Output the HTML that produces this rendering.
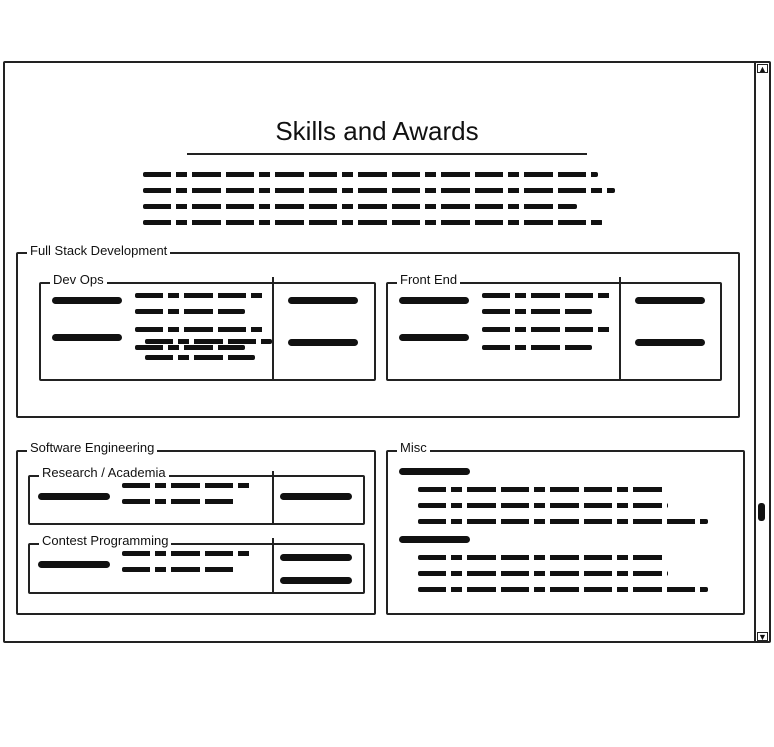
<!DOCTYPE html>
<html><head><meta charset="utf-8"><style>
body{margin:0;width:774px;height:747px;background:#fff;position:relative;overflow:hidden;font-family:"Liberation Sans",sans-serif;color:#111}
div{position:absolute;box-sizing:border-box}
.box{border:2px solid #222;border-radius:2px}
.lbl{font-size:13px;background:#fff;padding:0 3px;line-height:14px}
.s{height:5px;border-radius:2px;background:repeating-linear-gradient(90deg,#111 0 28px,transparent 28px 33px,#111 33px 44px,transparent 44px 49px,#111 49px 78px,transparent 78px 83px)}
.b{height:7px;border-radius:4px;background:#111}
.v{width:2px;background:#222}
</style></head><body>
<div class="box" style="left:3px;top:61px;width:768px;height:582px"></div>
<div class="v" style="left:754px;top:62px;height:580px"></div>
<div style="left:757px;top:64px;width:11px;height:9px;font-size:9px;line-height:9px;text-align:center;border:1px solid #222">▲</div>
<div style="left:757px;top:632px;width:11px;height:9px;font-size:9px;line-height:9px;text-align:center;border:1px solid #222">▼</div>
<div style="left:758px;top:503px;width:7px;height:18px;background:#111;border-radius:3px"></div>

<div style="left:170px;top:115px;width:414px;text-align:center;font-size:26px;line-height:32px">Skills and Awards</div>
<div style="left:187px;top:153px;width:400px;height:2px;background:#222"></div>
<div class="s" style="left:143px;top:172px;width:455px"></div>
<div class="s" style="left:143px;top:188px;width:472px"></div>
<div class="s" style="left:143px;top:204px;width:434px"></div>
<div class="s" style="left:143px;top:220px;width:460px"></div>

<div class="box" style="left:16px;top:252px;width:724px;height:166px"></div>
<div class="lbl" style="left:27px;top:244px">Full Stack Development</div>

<div class="box" style="left:39px;top:282px;width:337px;height:99px"></div>
<div class="v" style="left:272px;top:277px;height:104px"></div>
<div class="lbl" style="left:50px;top:273px">Dev Ops</div>
<div class="b" style="left:52px;top:297px;width:70px"></div>
<div class="b" style="left:52px;top:334px;width:70px"></div>
<div class="s" style="left:135px;top:293px;width:130px"></div>
<div class="s" style="left:135px;top:309px;width:110px"></div>
<div class="s" style="left:135px;top:327px;width:130px"></div>
<div class="s" style="left:145px;top:339px;width:127px"></div>
<div class="s" style="left:135px;top:345px;width:110px"></div>
<div class="s" style="left:145px;top:355px;width:110px"></div>
<div class="b" style="left:288px;top:297px;width:70px"></div>
<div class="b" style="left:288px;top:339px;width:70px"></div>

<div class="box" style="left:386px;top:282px;width:336px;height:99px"></div>
<div class="v" style="left:619px;top:277px;height:104px"></div>
<div class="lbl" style="left:397px;top:273px">Front End</div>
<div class="b" style="left:399px;top:297px;width:70px"></div>
<div class="b" style="left:399px;top:334px;width:70px"></div>
<div class="s" style="left:482px;top:293px;width:130px"></div>
<div class="s" style="left:482px;top:309px;width:110px"></div>
<div class="s" style="left:482px;top:327px;width:130px"></div>
<div class="s" style="left:482px;top:345px;width:110px"></div>
<div class="b" style="left:635px;top:297px;width:70px"></div>
<div class="b" style="left:635px;top:339px;width:70px"></div>

<div class="box" style="left:16px;top:450px;width:360px;height:165px"></div>
<div class="lbl" style="left:27px;top:441px">Software Engineering</div>
<div class="box" style="left:28px;top:475px;width:337px;height:50px"></div>
<div class="v" style="left:272px;top:471px;height:54px"></div>
<div class="lbl" style="left:39px;top:466px">Research / Academia</div>
<div class="b" style="left:38px;top:493px;width:72px"></div>
<div class="s" style="left:122px;top:483px;width:130px"></div>
<div class="s" style="left:122px;top:499px;width:113px"></div>
<div class="b" style="left:280px;top:493px;width:72px"></div>
<div class="box" style="left:28px;top:543px;width:337px;height:51px"></div>
<div class="v" style="left:272px;top:538px;height:56px"></div>
<div class="lbl" style="left:39px;top:534px">Contest Programming</div>
<div class="b" style="left:38px;top:561px;width:72px"></div>
<div class="s" style="left:122px;top:551px;width:130px"></div>
<div class="s" style="left:122px;top:567px;width:113px"></div>
<div class="b" style="left:280px;top:554px;width:72px"></div>
<div class="b" style="left:280px;top:577px;width:72px"></div>

<div class="box" style="left:386px;top:450px;width:359px;height:165px"></div>
<div class="lbl" style="left:397px;top:441px">Misc</div>
<div class="b" style="left:399px;top:468px;width:71px"></div>
<div class="s" style="left:418px;top:487px;width:248px"></div>
<div class="s" style="left:418px;top:503px;width:250px"></div>
<div class="s" style="left:418px;top:519px;width:290px"></div>
<div class="b" style="left:399px;top:536px;width:71px"></div>
<div class="s" style="left:418px;top:555px;width:248px"></div>
<div class="s" style="left:418px;top:571px;width:250px"></div>
<div class="s" style="left:418px;top:587px;width:290px"></div>
</body></html>
